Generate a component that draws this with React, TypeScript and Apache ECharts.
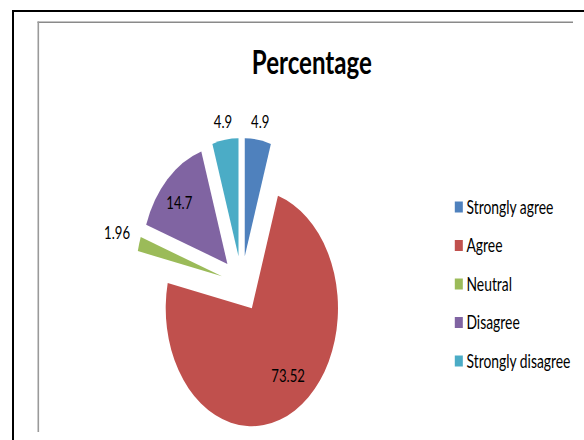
import React, { useEffect, useRef } from 'react';
import * as echarts from 'echarts';

const categories = ['Strongly agree', 'Agree', 'Neutral', 'Disagree', 'Strongly disagree'];
const values = [4.9, 73.52, 1.96, 14.7, 4.9];
const colors = ['#4F81BD', '#C0504D', '#9BBB59', '#8064A2', '#4BACC6'];
const labelRadiusFactors = [1.15, 0.67, 1.255, 0.75, 1.15];
const labelAngleShiftDeg = [0, -7.6, 2.1, -2, 0];
const titleText = 'Percentage';

const W = 584;
const H = 440;
const SX = 0.73;
const CW = W / SX;

export default function App() {
  const ref = useRef<HTMLDivElement>(null);
  useEffect(() => {
    const chart = echarts.init(ref.current as HTMLDivElement, null, { renderer: 'svg', width: CW, height: H });
    const R = 118;
    const total = values.reduce((a, b) => a + b, 0);
    const mids: number[] = [];
    let cum = 0;
    values.forEach((v) => {
      mids.push(((cum + v / 2) / total) * 2 * Math.PI);
      cum += v;
    });
    const X = (x: number) => x / SX;
    chart.setOption({
      animation: false,
      backgroundColor: '#fff',
      title: {
        text: titleText,
        left: 340,
        top: 39,
        textStyle: { fontFamily: 'Lato', fontWeight: 'bold', fontSize: 33, color: '#000' },
      },
      legend: {
        orient: 'vertical',
        left: 618,
        top: 192.5,
        itemWidth: 11,
        itemHeight: 11,
        itemGap: 19.5,
        icon: 'rect',
        selectedMode: false,
        textStyle: { fontFamily: 'Lato', fontSize: 19, color: '#000' },
        data: categories,
      },
      graphic: [
        { type: 'rect', silent: true, shape: { x: X(12), y: 10, width: X(584 - 12), height: 2 }, style: { fill: '#000' } },
        { type: 'rect', silent: true, shape: { x: X(12), y: 10, width: X(2), height: 430 }, style: { fill: '#000' } },
        { type: 'rect', silent: true, shape: { x: X(37.5), y: 21.5, width: X(573 - 37.5), height: 1.6 }, style: { fill: '#8a8a8a' } },
        { type: 'rect', silent: true, shape: { x: X(37.5), y: 21.5, width: X(1.6), height: 432 - 21.5 }, style: { fill: '#9a9a9a' } },
      ],
      series: [
        {
          type: 'pie',
          center: [331, 284],
          radius: R,
          startAngle: 90,
          clockwise: true,
          selectedMode: 'multiple',
          selectedOffset: 28,
          avoidLabelOverlap: false,
          emphasis: { disabled: true },
          label: {
            show: true,
            position: 'inside',
            formatter: '{c}',
            color: '#000',
            fontFamily: 'Lato',
            fontSize: 18,
            textBorderWidth: 0,
          },
          labelLine: { show: false },
          labelLayout: (p: any) => {
            const i = p.dataIndex;
            const m = mids[i];
            const a = m + (labelAngleShiftDeg[i] * Math.PI) / 180;
            const f = labelRadiusFactors[i] * R;
            const h = 0.5 * R;
            return {
              dx: f * Math.sin(a) - h * Math.sin(m),
              dy: -f * Math.cos(a) + h * Math.cos(m) + 1.5,
            };
          },
          data: categories.map((name, i) => ({
            name,
            value: values[i],
            selected: true,
            itemStyle: { color: colors[i] },
            select: { itemStyle: { color: colors[i] } },
          })),
        },
      ],
    });
    return () => chart.dispose();
  }, []);
  return (
    <div style={{ position: 'fixed', left: 0, top: 0, width: W, height: H, overflow: 'hidden', background: '#fff' }}>
      <div ref={ref} style={{ width: CW, height: H, transform: `scaleX(${SX})`, transformOrigin: '0 0' }} />
    </div>
  );
}
